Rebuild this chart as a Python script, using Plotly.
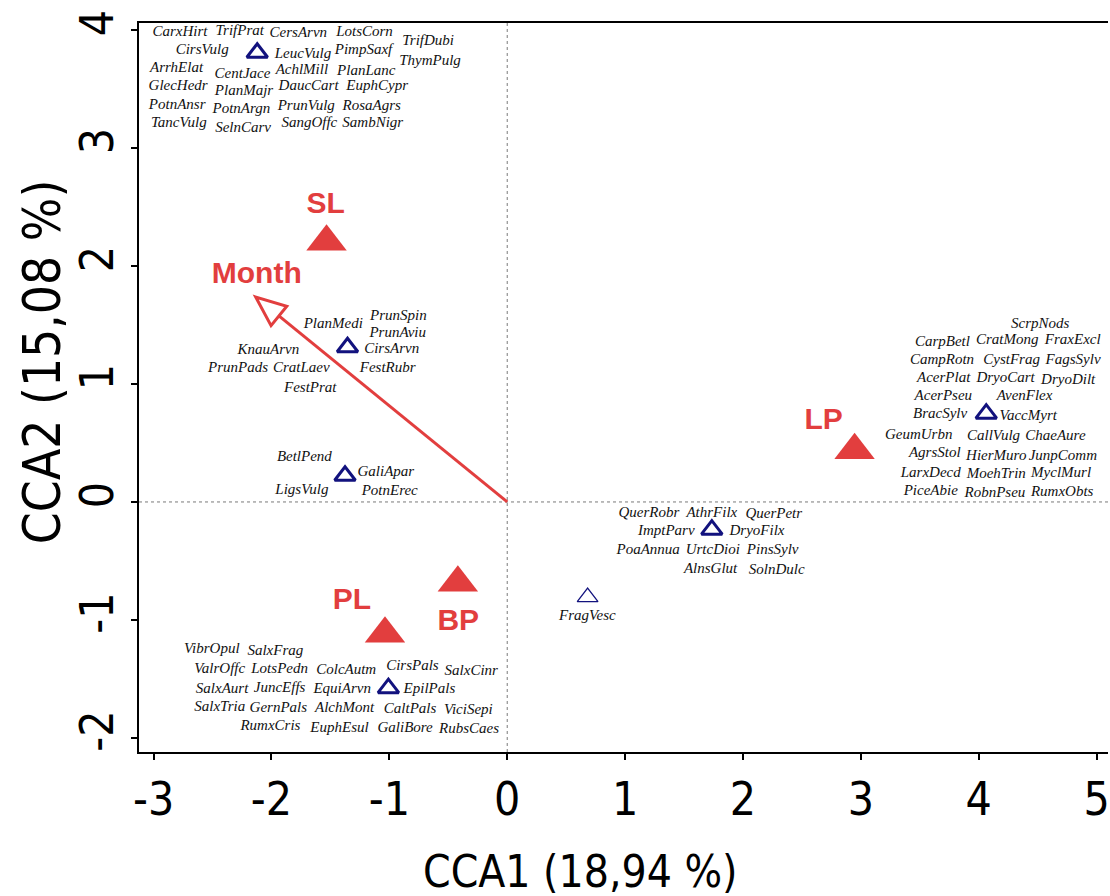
import plotly.graph_objects as go
import numpy as np

# ---------------- data ----------------
species = [
    "CarxHirt", "TrifPrat", "CersArvn", "LotsCorn", "TrifDubi",
    "CirsVulg", "LeucVulg", "PimpSaxf", "ThymPulg",
    "ArrhElat", "CentJace", "AchlMill", "PlanLanc",
    "GlecHedr", "PlanMajr", "DaucCart", "EuphCypr",
    "PotnAnsr", "PotnArgn", "PrunVulg", "RosaAgrs",
    "TancVulg", "SelnCarv", "SangOffc", "SambNigr",
    "PlanMedi", "PrunSpin", "PrunAviu", "CirsArvn", "KnauArvn",
    "PrunPads", "CratLaev", "FestRubr", "FestPrat",
    "BetlPend", "GaliApar", "LigsVulg", "PotnErec",
    "VibrOpul", "SalxFrag", "ValrOffc", "LotsPedn", "ColcAutm", "CirsPals", "SalxCinr",
    "SalxAurt", "JuncEffs", "EquiArvn", "EpilPals",
    "SalxTria", "GernPals", "AlchMont", "CaltPals", "ViciSepi",
    "RumxCris", "EuphEsul", "GaliBore", "RubsCaes",
    "ScrpNods", "CarpBetl", "CratMong", "FraxExcl",
    "CampRotn", "CystFrag", "FagsSylv",
    "AcerPlat", "DryoCart", "DryoDilt",
    "AcerPseu", "AvenFlex", "BracSylv", "VaccMyrt",
    "GeumUrbn", "CallVulg", "ChaeAure",
    "AgrsStol", "HierMuro", "JunpComm",
    "LarxDecd", "MoehTrin", "MyclMurl",
    "PiceAbie", "RobnPseu", "RumxObts",
    "QuerRobr", "AthrFilx", "QuerPetr", "ImptParv", "DryoFilx",
    "PoaAnnua", "UrtcDioi", "PinsSylv", "AlnsGlut", "SolnDulc",
    "FragVesc",
]
species_x = [
    -2.777, -2.269, -1.772, -1.211, -0.671,
    -2.588, -1.733, -1.219, -0.655,
    -2.805, -2.246, -1.742, -1.196,
    -2.792, -2.233, -1.685, -1.103,
    -2.800, -2.255, -1.705, -1.149,
    -2.786, -2.241, -1.679, -1.141,
    -1.476, -0.923, -0.929, -0.980, -2.026,
    -2.284, -1.747, -1.014, -1.671,
    -1.721, -1.030, -1.742, -0.997,
    -2.506, -1.967, -2.439, -1.931, -1.366, -0.804, -0.305,
    -2.419, -1.931, -1.400, -0.660,
    -2.439, -1.942, -1.380, -0.824, -0.330,
    -2.009, -1.423, -0.866, -0.324,
    4.522, 3.692, 4.242, 4.798,
    3.689, 4.279, 4.801,
    3.703, 4.228, 4.759,
    3.700, 4.389, 3.672, 4.420,
    3.491, 4.126, 4.651,
    3.627, 4.149, 4.714,
    3.593, 4.149, 4.699,
    3.593, 4.138, 4.708,
    1.202, 1.736, 2.261, 1.349, 2.119,
    1.196, 1.744, 2.252, 1.725, 2.286,
    0.680,
]
species_y = [
    3.981, 3.992, 3.972, 3.981, 3.901,
    3.831, 3.790, 3.831, 3.737,
    3.675, 3.625, 3.655, 3.647,
    3.520, 3.483, 3.520, 3.520,
    3.358, 3.328, 3.350, 3.350,
    3.209, 3.167, 3.209, 3.209,
    1.508, 1.570, 1.430, 1.294, 1.282,
    1.133, 1.133, 1.133, 0.964,
    0.379, 0.248, 0.102, 0.087,
    -1.246, -1.269, -1.418, -1.418, -1.424, -1.396, -1.438,
    -1.585, -1.579, -1.587, -1.587,
    -1.740, -1.748, -1.748, -1.754, -1.763,
    -1.904, -1.918, -1.918, -1.924,
    1.508, 1.353, 1.367, 1.367,
    1.203, 1.203, 1.203,
    1.048, 1.048, 1.034,
    0.898, 0.898, 0.746, 0.729,
    0.568, 0.559, 0.559,
    0.413, 0.384, 0.384,
    0.243, 0.235, 0.243,
    0.087, 0.074, 0.079,
    -0.096, -0.096, -0.102, -0.246, -0.252,
    -0.407, -0.413, -0.413, -0.570, -0.576,
    -0.972,
]

# species-group centroids (open blue triangles)
group_x = [-2.121, -1.355, -1.376, -1.008, 1.736, 4.064]
group_y = [3.807, 1.311, 0.222, -1.578, -0.235, 0.748]
single_x = [0.682]
single_y = [-0.807]

# sites (filled red triangles)
site_names = ["SL", "BP", "PL", "LP"]
site_x = [-1.533, -0.419, -1.037, 2.947]
site_y = [2.206, -0.684, -1.117, 0.439]
site_label_x = [-1.541, -0.415, -1.317, 2.684]
site_label_y = [2.510, -1.020, -0.845, 0.680]

# environmental vector
env_name = "Month"
env_x = -2.134
env_y = 1.737
env_label_x = -2.125
env_label_y = 1.915

x_ticks = [-3, -2, -1, 0, 1, 2, 3, 4, 5]
y_ticks = [-2, -1, 0, 1, 2, 3, 4]
x_title = "CCA1 (18,94 %)"
y_title = "CCA2 (15,08 %)"

# ---------------- style ----------------
RED = "#E23E3E"
NAVY = "#12127E"
W, H = 1110, 896
ML, MR, MT, MB = 139, 0, 23, 144
XR = [-3.124, 5.097]
YR = [-2.119, 4.059]
AX_FONT = "Liberation Sans Narrow, Arial Narrow, DejaVu Sans Condensed, sans-serif"

fig = go.Figure()

# arrow geometry in pixel-consistent units
px_per_x = (W - ML - MR) / (XR[1] - XR[0])
px_per_y = (H - MT - MB) / (YR[1] - YR[0])
vx, vy = env_x * px_per_x, env_y * px_per_y
L = np.hypot(vx, vy)
ux, uy = vx / L, vy / L
head_len, head_half = 30.0, 12.5
bx, by = vx - head_len * ux, vy - head_len * uy
c1 = (bx + head_half * (-uy), by + head_half * ux)
c2 = (bx - head_half * (-uy), by - head_half * ux)
to_d = lambda p: (p[0] / px_per_x, p[1] / px_per_y)
b_d = to_d((bx, by))
c1_d, c2_d = to_d(c1), to_d(c2)

shapes = [
    dict(type="line", xref="x", yref="paper", x0=0, x1=0, y0=0, y1=1,
         line=dict(color="#7a7a7a", width=1, dash="dot"), layer="below"),
    dict(type="line", xref="paper", yref="y", x0=0, x1=1, y0=0, y1=0,
         line=dict(color="#7a7a7a", width=1, dash="dot"), layer="below"),
    dict(type="line", xref="x", yref="y", x0=0, y0=0, x1=b_d[0], y1=b_d[1],
         line=dict(color=RED, width=3)),
    dict(type="path", xref="x", yref="y",
         path=f"M {env_x},{env_y} L {c1_d[0]},{c1_d[1]} L {c2_d[0]},{c2_d[1]} Z",
         fillcolor="white", line=dict(color=RED, width=3)),
]

fig.add_trace(go.Scatter(
    x=species_x, y=species_y, text=species, mode="text",
    textposition="middle center",
    textfont=dict(family="Liberation Serif, Times New Roman, serif", size=15,
                  style="italic", color="#111111"),
    hoverinfo="text", showlegend=False))

fig.add_trace(go.Scatter(
    x=group_x, y=group_y, mode="markers",
    marker=dict(symbol="triangle-up-open", size=18, color=NAVY,
                line=dict(color=NAVY, width=3)),
    showlegend=False))
fig.add_trace(go.Scatter(
    x=single_x, y=single_y, mode="markers",
    marker=dict(symbol="triangle-up-open", size=18, color=NAVY,
                line=dict(color=NAVY, width=1.3)),
    showlegend=False))

fig.add_trace(go.Scatter(
    x=site_x, y=site_y, mode="markers",
    marker=dict(symbol="triangle-up", size=35, color=RED, line=dict(width=0)),
    showlegend=False))

fig.add_trace(go.Scatter(
    x=site_label_x + [env_label_x], y=site_label_y + [env_label_y],
    text=site_names + [env_name], mode="text", textposition="middle center",
    textfont=dict(family="Liberation Sans, Arial, sans-serif", size=30,
                  weight="bold", color=RED),
    showlegend=False))

annotations = [
    dict(text=x_title, xref="paper", yref="paper", x=0.456, y=(752 - 872) / (H - MT - MB),
         xanchor="center", yanchor="middle", showarrow=False,
         font=dict(family=AX_FONT, size=44, color="black")),
    dict(text=y_title, xref="paper", yref="paper", x=(42 - ML) / (W - ML - MR),
         y=(752 - 362) / (H - MT - MB), textangle=-90,
         xanchor="center", yanchor="middle", showarrow=False,
         font=dict(family=AX_FONT, size=51, color="black")),
]

fig.update_layout(
    width=W, height=H, margin=dict(l=ML, r=MR, t=MT, b=MB, pad=0),
    plot_bgcolor="white", paper_bgcolor="white",
    shapes=shapes, annotations=annotations,
    xaxis=dict(range=XR, tickvals=x_ticks, ticktext=[str(v) for v in x_ticks],
               ticks="outside", ticklen=6, tickwidth=2, tickcolor="black",
               showline=True, linewidth=2, linecolor="black", mirror=True,
               showgrid=False, zeroline=False, ticklabeloverflow="allow",
               tickfont=dict(family=AX_FONT, size=46, color="black")),
    yaxis=dict(range=YR, tickvals=y_ticks, ticktext=[str(v) for v in y_ticks],
               ticks="outside", ticklen=6, tickwidth=2, tickcolor="black",
               showline=True, linewidth=2, linecolor="black",
               showgrid=False, zeroline=False, tickangle=-90,
               tickfont=dict(family=AX_FONT, size=46, color="black")),
)

fig.write_html("out.html")
